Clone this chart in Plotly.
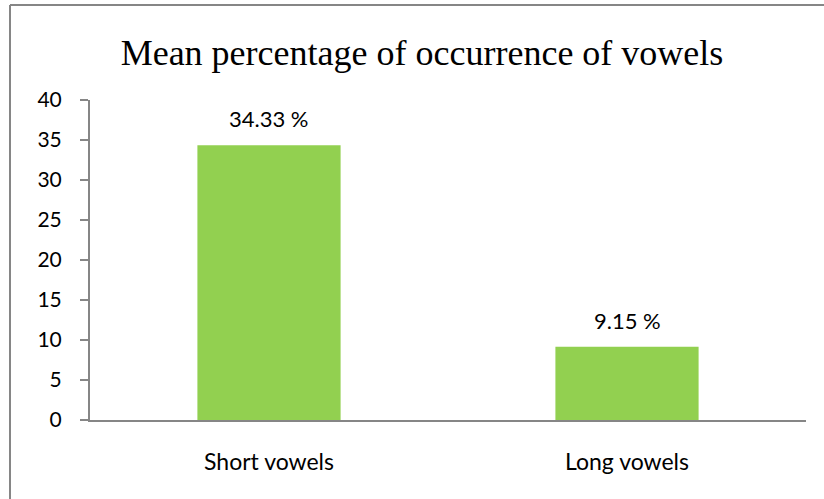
import plotly.graph_objects as go

categories = ["Short vowels", "Long vowels"]
values = [34.33, 9.15]
labels = ["34.33 %", "9.15 %"]
y_ticks = [0, 5, 10, 15, 20, 25, 30, 35, 40]

W, H = 824, 499
L, R, T, B = 90, 18, 100, 79
pw, ph = W - L - R, H - T - B

def px_x(p):
    return (p - L) / pw

def px_y(p):
    return (H - B - p) / ph

gray = "#868686"
font_sans = "Lato, 'Open Sans', sans-serif"

fig = go.Figure()
fig.add_trace(go.Bar(
    x=categories, y=values,
    marker=dict(color="#92D050", line=dict(width=0)),
    width=0.4,
    hoverinfo="skip",
))

for c, v, t in zip(categories, values, labels):
    fig.add_annotation(x=c, y=v, text=t, showarrow=False, yanchor="bottom",
                       yshift=11, font=dict(family=font_sans, size=22, color="#000"))

fig.add_shape(type="line", xref="paper", yref="paper",
              x0=px_x(10), x1=px_x(10), y0=px_y(5), y1=px_y(H + 5),
              line=dict(color=gray, width=2))
fig.add_shape(type="line", xref="paper", yref="paper",
              x0=px_x(10), x1=px_x(W + 5), y0=px_y(5), y1=px_y(5),
              line=dict(color=gray, width=2))

fig.update_layout(
    width=W, height=H,
    margin=dict(l=L, r=R, t=T, b=B),
    paper_bgcolor="white", plot_bgcolor="white",
    showlegend=False,
    title=dict(text="Mean percentage of occurrence of vowels",
               font=dict(family="'Liberation Serif', 'Times New Roman', serif", size=36, color="#000"),
               x=422 / W, xanchor="center", y=1 - 52 / H, yanchor="middle"),
    xaxis=dict(showline=True, linecolor=gray, linewidth=2, ticks="",
               showgrid=False, tickfont=dict(family=font_sans, size=23, color="#000"),
               ticklabelstandoff=20, fixedrange=True),
    yaxis=dict(range=[0, 40], tickvals=y_ticks, showline=True, linecolor=gray, linewidth=2,
               ticks="outside", ticklen=8, tickwidth=2, tickcolor=gray,
               showgrid=False, zeroline=False,
               tickfont=dict(family=font_sans, size=21, color="#000"),
               ticklabelstandoff=14, fixedrange=True),
)

fig.write_html("out.html", config={"displayModeBar": False},
               post_script="document.body.style.margin='0';")
